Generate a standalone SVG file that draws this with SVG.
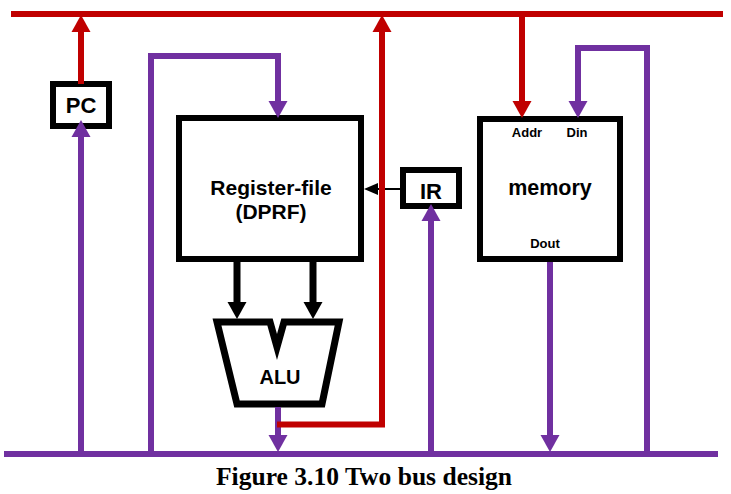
<svg xmlns="http://www.w3.org/2000/svg" width="731" height="494" viewBox="0 0 731 494">
<style>
.box{fill:#fff;stroke:#000;stroke-width:6}
.lbl{font-family:"Liberation Sans",Arial,sans-serif;font-weight:bold;fill:#000;text-anchor:middle}
.red{fill:none;stroke:#C00000;stroke-width:6}
.pur{fill:none;stroke:#7030A0;stroke-width:6}
.blk{fill:none;stroke:#000;stroke-width:7}
.thin{fill:none;stroke:#000;stroke-width:2}
.cap{font-family:"Liberation Serif","Times New Roman",serif;font-weight:bold;font-size:25px;fill:#000;text-anchor:middle}
</style>
<defs>
<marker id="aR" markerUnits="userSpaceOnUse" viewBox="0 -10 17 20" refX="0" refY="0" markerWidth="17" markerHeight="20" orient="auto" overflow="visible"><path d="M0,-9.5 L17,0 L0,9.5 z" fill="#C00000"/></marker>
<marker id="aP" markerUnits="userSpaceOnUse" viewBox="0 -10 17 20" refX="0" refY="0" markerWidth="17" markerHeight="20" orient="auto" overflow="visible"><path d="M0,-9.5 L17,0 L0,9.5 z" fill="#7030A0"/></marker>
<marker id="aK" markerUnits="userSpaceOnUse" viewBox="0 -10 17 20" refX="0" refY="0" markerWidth="17" markerHeight="20" orient="auto" overflow="visible"><path d="M0,-9.5 L17,0 L0,9.5 z" fill="#000"/></marker>
<marker id="aS" markerUnits="userSpaceOnUse" viewBox="0 -6 14 12" refX="0" refY="0" markerWidth="14" markerHeight="12" orient="auto" overflow="visible"><path d="M0,-6 L14,0 L0,6 z" fill="#000"/></marker>
</defs>

<g id="buses">
<line class="red" x1="11" y1="14" x2="723" y2="14"/>
<line class="pur" x1="4" y1="454" x2="718" y2="454"/>
</g>

<g id="PC">
<rect class="box" x="53" y="84" width="56" height="42"/>
<text class="lbl" x="81" y="113" font-size="22">PC</text>
</g>

<g id="regfile">
<rect class="box" x="179" y="118" width="182" height="141"/>
<text class="lbl" x="271" y="195" font-size="21">Register-file</text>
<text class="lbl" x="271" y="219" font-size="21">(DPRF)</text>
</g>

<g id="ALU">
<polygon points="217,322 270,322 277,347 284,322 339,322 322,404 237,404" fill="#fff" stroke="#000" stroke-width="7"/>
<text class="lbl" x="280" y="384" font-size="20">ALU</text>
</g>

<g id="IR">
<rect class="box" x="403" y="170" width="56" height="36"/>
<text class="lbl" x="431" y="199" font-size="22">IR</text>
</g>

<g id="memory">
<rect class="box" x="480" y="119" width="140" height="140"/>
<text class="lbl" x="527" y="137" font-size="13">Addr</text>
<text class="lbl" x="577" y="137" font-size="13">Din</text>
<text class="lbl" x="550" y="195" font-size="21.5">memory</text>
<text class="lbl" x="545" y="248" font-size="13">Dout</text>
</g>

<g id="connectors">
<path class="thin" d="M400,189 L378,189" marker-end="url(#aS)"/>
<path class="red" d="M81,84 L81,32" marker-end="url(#aR)"/>
<path class="pur" d="M81,454 L81,137" marker-end="url(#aP)"/>
<path class="pur" d="M151,454 L151,56 L278,56 L278,101" marker-end="url(#aP)"/>
<path class="blk" d="M237,262 L237,302" marker-end="url(#aK)"/>
<path class="blk" d="M313,262 L313,302" marker-end="url(#aK)"/>
<path class="pur" d="M278,407 L278,435" marker-end="url(#aP)"/>
<path class="red" d="M277,424.5 L382,424.5 L382,32" marker-end="url(#aR)"/>
<path class="pur" d="M431,454 L431,221" marker-end="url(#aP)"/>
<path class="red" d="M522,14 L522,101" marker-end="url(#aR)"/>
<path class="pur" d="M647,454 L647,48 L578,48 L578,101" marker-end="url(#aP)"/>
<path class="pur" d="M550,262 L550,435" marker-end="url(#aP)"/>
</g>

<text class="cap" x="364" y="485" textLength="296" lengthAdjust="spacingAndGlyphs">Figure 3.10 Two bus design</text>
</svg>
